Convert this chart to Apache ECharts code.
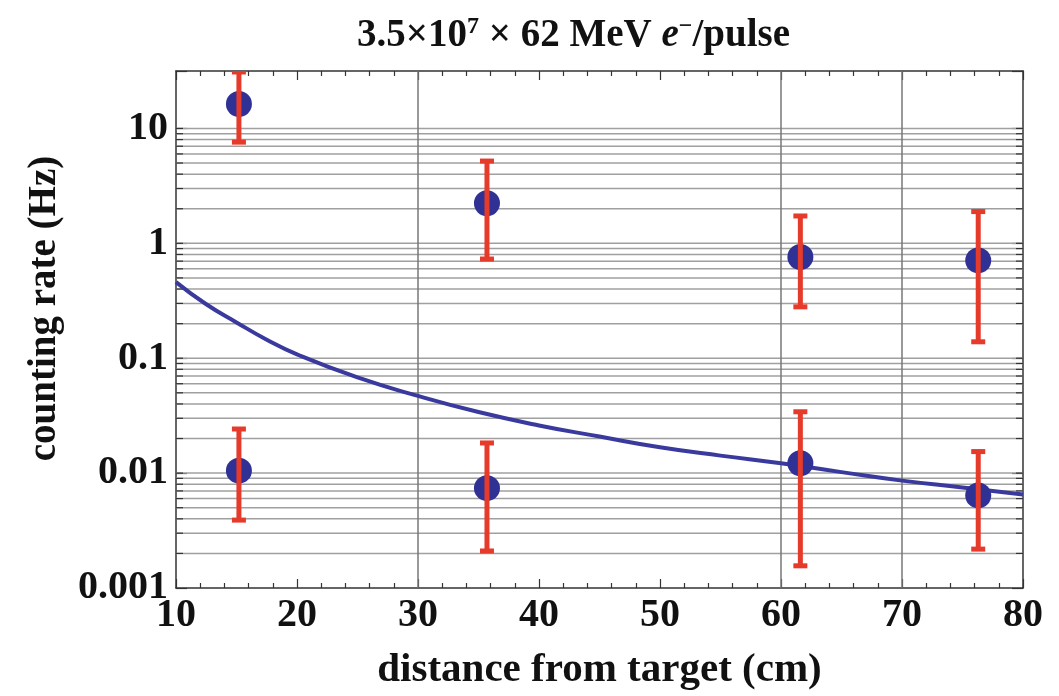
<!DOCTYPE html>
<html>
<head>
<meta charset="utf-8">
<title>counting rate vs distance</title>
<script src="https://cdn.jsdelivr.net/npm/echarts@6/dist/echarts.min.js"></script>
<style>
  html, body { margin: 0; padding: 0; background: #fff; }
  #chart { width: 1059px; height: 696px; }
</style>
</head>
<body>
<div id="chart"></div>
<script>
// measured points (distance in cm, rate in Hz)
const distances = [15.2, 35.7, 61.6, 76.3]
const upperRates = [16.3, 2.23, 0.76, 0.71]
const upperErrLow = [7.6, 0.73, 0.28, 0.139]
const upperErrHigh = [31, 5.2, 1.73, 1.89]
const lowerRates = [0.0105, 0.0074, 0.0122, 0.0064]
const lowerErrLow = [0.0039, 0.0021, 0.00156, 0.00218]
const lowerErrHigh = [0.0242, 0.0183, 0.0342, 0.0154]

// expected curve
const curveX = [10, 12.5, 15, 17.5, 20, 25, 30, 35, 40, 45, 50, 55, 60, 65, 70, 75, 80]
const curveY = [0.46, 0.295, 0.205, 0.145, 0.108, 0.068, 0.047, 0.034, 0.026, 0.0208, 0.0168, 0.0142, 0.0122, 0.0102, 0.0086, 0.0075, 0.0065]

// axes
const yTickLabels = ['0.001', '0.01', '0.1', '1', '10']
const yMinExp = -3
const gridDecades = [0.001, 0.01, 0.1, 1]
const gridMultipliers = [2, 3, 4, 5, 6, 7, 8, 9, 10]
const vGridValues = [30, 60, 70]

const hGridValues = []
gridDecades.forEach(d => gridMultipliers.forEach(m => hGridValues.push(+(d * m).toPrecision(3))))

const serif = '"Liberation Serif", "DejaVu Serif", serif'
const axisColor = '#333'

const chart = echarts.init(document.getElementById('chart'))

function errorBar(params, api) {
  const x = api.value(0)
  const lo = api.coord([x, api.value(1)])
  const hi = api.coord([x, api.value(2)])
  const cap = 7
  const style = { stroke: '#e63a2a', lineWidth: 5 }
  return {
    type: 'group',
    children: [
      { type: 'line', shape: { x1: lo[0], y1: lo[1], x2: hi[0], y2: hi[1] }, style: style },
      { type: 'line', shape: { x1: hi[0] - cap, y1: hi[1], x2: hi[0] + cap, y2: hi[1] }, style: style },
      { type: 'line', shape: { x1: lo[0] - cap, y1: lo[1], x2: lo[0] + cap, y2: lo[1] }, style: style }
    ]
  }
}

// gray grid line across the plot, with short dark ticks at both edges
function hGridLine(params, api) {
  const cs = params.coordSys
  const p = api.coord([10, api.value(1)])
  return {
    type: 'group',
    children: [
      { type: 'line', shape: { x1: cs.x, y1: p[1], x2: cs.x + cs.width, y2: p[1] }, style: { stroke: '#a0a0a0', lineWidth: 1.5 } },
      { type: 'line', shape: { x1: cs.x, y1: p[1], x2: cs.x + 7, y2: p[1] }, style: { stroke: axisColor, lineWidth: 1.2 } },
      { type: 'line', shape: { x1: cs.x + cs.width - 7, y1: p[1], x2: cs.x + cs.width, y2: p[1] }, style: { stroke: axisColor, lineWidth: 1.2 } }
    ]
  }
}

function vGridLine(params, api) {
  const cs = params.coordSys
  const x = api.coord([api.value(0), 1])[0]
  return {
    type: 'line',
    shape: { x1: x, y1: cs.y, x2: x, y2: cs.y + cs.height },
    style: { stroke: '#777', lineWidth: 1.5 }
  }
}

const xAxisBase = {
  type: 'value',
  min: 10,
  max: 80,
  interval: 10,
  axisLine: { show: true, onZero: false, lineStyle: { color: axisColor, width: 1.5 } },
  axisTick: { show: true, inside: true, length: 9, lineStyle: { color: axisColor, width: 1.2 } },
  minorTick: { show: true, splitNumber: 5, length: 5, lineStyle: { color: axisColor, width: 1.2 } },
  splitLine: { show: false }
}

const yAxisBase = {
  type: 'log',
  logBase: 10,
  min: 0.001,
  max: 31.62,
  axisLine: { show: true, lineStyle: { color: axisColor, width: 1.5 } },
  axisTick: { show: true, inside: true, length: 11, lineStyle: { color: axisColor, width: 1.2 } },
  splitLine: { show: false }
}

chart.setOption({
  animation: false,
  title: {
    text: '3.5×10{sup|7} × 62 MeV {it|e}{sup|−}/pulse',
    left: 357,
    top: 15,
    padding: 0,
    textStyle: {
      fontFamily: serif,
      fontWeight: 'bold',
      fontSize: 39,
      color: '#111',
      lineHeight: 42,
      rich: {
        sup: { fontFamily: serif, fontWeight: 'bold', fontSize: 24, lineHeight: 24, verticalAlign: 'top', color: '#111' },
        it: { fontFamily: serif, fontWeight: 'bold', fontStyle: 'italic', fontSize: 39, lineHeight: 42, color: '#111' }
      }
    }
  },
  grid: { left: 176, right: 36, top: 71, bottom: 105, containLabel: false },
  xAxis: [
    Object.assign({}, xAxisBase, {
      position: 'bottom',
      name: 'distance from target (cm)',
      nameLocation: 'middle',
      nameGap: 62,
      nameTextStyle: { fontFamily: serif, fontWeight: 'bold', fontSize: 41, color: '#111' },
      axisLabel: { fontFamily: serif, fontWeight: 'bold', fontSize: 40, color: '#111', margin: 8 }
    }),
    Object.assign({}, xAxisBase, { position: 'top', axisLabel: { show: false } })
  ],
  yAxis: [
    Object.assign({}, yAxisBase, {
      position: 'left',
      name: 'counting rate (Hz)',
      nameLocation: 'middle',
      nameGap: 112,
      nameRotate: 90,
      nameTextStyle: { fontFamily: serif, fontWeight: 'bold', fontSize: 39, color: '#111', padding: [0, 0, 0, 42] },
      axisLabel: {
        fontFamily: serif, fontWeight: 'bold', fontSize: 40, color: '#111', margin: 8,
        formatter: function (v) {
          const e = Math.log10(v)
          const r = Math.round(e)
          if (Math.abs(e - r) > 1e-6) return ''
          return yTickLabels[r - yMinExp] || ''
        }
      }
    }),
    Object.assign({}, yAxisBase, { position: 'right', axisLabel: { show: false } })
  ],
  series: [
    {
      type: 'custom',
      name: 'hgrid',
      z: 1,
      silent: true,
      renderItem: hGridLine,
      encode: { x: 0, y: 1 },
      data: hGridValues.map(v => [10, v])
    },
    {
      type: 'custom',
      name: 'vgrid',
      z: 1,
      silent: true,
      renderItem: vGridLine,
      encode: { x: 0, y: 1 },
      data: vGridValues.map(v => [v, 1])
    },
    {
      type: 'line',
      name: 'expected',
      z: 3,
      smooth: true,
      showSymbol: false,
      lineStyle: { color: '#3a3a9e', width: 4 },
      data: curveX.map((x, i) => [x, curveY[i]])
    },
    {
      type: 'scatter',
      name: 'upper',
      z: 4,
      symbolSize: 26,
      itemStyle: { color: '#2f3194', opacity: 1 },
      data: distances.map((x, i) => [x, upperRates[i]])
    },
    {
      type: 'scatter',
      name: 'lower',
      z: 4,
      symbolSize: 26,
      itemStyle: { color: '#2f3194', opacity: 1 },
      data: distances.map((x, i) => [x, lowerRates[i]])
    },
    {
      type: 'custom',
      name: 'errors',
      z: 5,
      clip: true,
      renderItem: errorBar,
      encode: { x: 0, y: [1, 2] },
      data: distances.map((x, i) => [x, upperErrLow[i], upperErrHigh[i]])
        .concat(distances.map((x, i) => [x, lowerErrLow[i], lowerErrHigh[i]]))
    }
  ]
})
</script>
</body>
</html>
